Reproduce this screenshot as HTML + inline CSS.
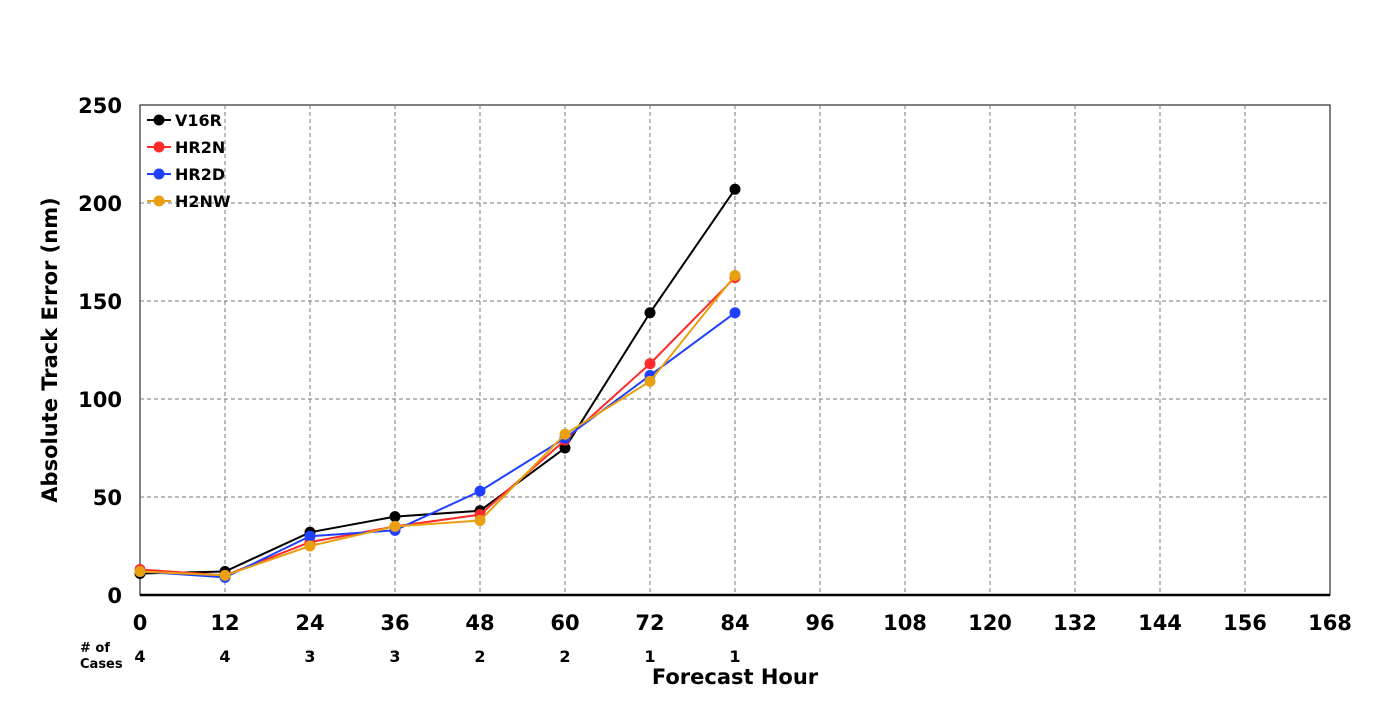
<!DOCTYPE html>
<html><head><meta charset="utf-8"><style>
body{margin:0;background:#fff;}
svg{font-family:"DejaVu Sans",sans-serif;font-weight:bold;}
</style></head><body>
<svg id="chart" width="1400" height="700" xmlns="http://www.w3.org/2000/svg"></svg>
<script>
const hours=[0,12,24,36,48,60,72,84];
const xTicks=[0,12,24,36,48,60,72,84,96,108,120,132,144,156,168];
const yTicks=[0,50,100,150,200,250];
const cases=[4,4,3,3,2,2,1,1];
const seriesNames=["V16R","HR2N","HR2D","H2NW"];
const seriesColors=["#000000","#ff2a2a","#2040ff","#e8a010"];
const v16r=[11,12,32,40,43,75,144,207];
const hr2n=[13,10,27,35,41,79,118,162];
const hr2d=[12,9,30,33,53,80,112,144];
const h2nw=[12,10,25,35,38,82,109,163];
const allSeries=[v16r,hr2n,hr2d,h2nw];
const X0=140,X1=1330,Y0=595,Y1=105;
const x=h=>X0+(h/168)*(X1-X0);
const y=v=>Y0-(v/250)*(Y0-Y1);
const svg=document.getElementById('chart');
const NS="http://www.w3.org/2000/svg";
function mk(t,a,p){const e=document.createElementNS(NS,t);for(const k in a)e.setAttribute(k,a[k]);(p||svg).appendChild(e);return e;}
let r=mk('rect',{x:X0,y:Y1,width:X1-X0,height:Y0-Y1,fill:'#fff',stroke:'#000','stroke-width':1});


xTicks.forEach(h=>{
  if(h>0&&h<168){let g=mk('line',{x1:x(h),x2:x(h),y1:Y1,y2:Y0,stroke:'#777','stroke-dasharray':'4,3'});
  
  }
  let t=mk('text',{x:x(h),y:630,'text-anchor':'middle','font-size':21});t.textContent=h;
  
  
});
yTicks.forEach(v=>{
  if(v>0&&v<250){let g=mk('line',{x1:X0,x2:X1,y1:y(v),y2:y(v),stroke:'#777','stroke-dasharray':'4,3'});
  
  }
  let t=mk('text',{x:122,y:y(v)+8,'text-anchor':'end','font-size':21});t.textContent=v;
  
  
});
let ax=mk('line',{x1:X0,x2:X1,y1:Y0,y2:Y0,stroke:'#000','stroke-width':2.5});


cases.forEach((c,i)=>{let t=mk('text',{x:x(hours[i]),y:662,'text-anchor':'middle','font-size':16});t.textContent=c;
  
  });
let c1=mk('text',{x:80,y:652,'font-size':13});c1.textContent='# of';


let c2=mk('text',{x:80,y:668,'font-size':13});c2.textContent='Cases';


let xt=mk('text',{x:735,y:684,'text-anchor':'middle','font-size':21});xt.textContent='Forecast Hour';


let yt=mk('text',{x:0,y:0,'text-anchor':'middle','font-size':21,transform:'translate(57,350) rotate(-90)'});yt.textContent='Absolute Track Error (nm)';


allSeries.forEach((s,si)=>{
  const col=seriesColors[si];
  let pl=mk('polyline',{points:s.map((v,i)=>x(hours[i])+','+y(v)).join(' '),fill:'none',stroke:col,'stroke-width':2});
  
  
  s.forEach((v,i)=>{let c=mk('circle',{cx:x(hours[i]),cy:y(v),r:5.5,fill:col});
    
    });
  const ly=120+si*27;
  let ll=mk('line',{x1:147,x2:171,y1:ly,y2:ly,stroke:col,'stroke-width':2});
  
  
  let lc=mk('circle',{cx:159,cy:ly,r:5.5,fill:col});
  
  
  let lt=mk('text',{x:175,y:ly+6,'font-size':16});lt.textContent=seriesNames[si];
  
  
});
</script>
</body></html>
